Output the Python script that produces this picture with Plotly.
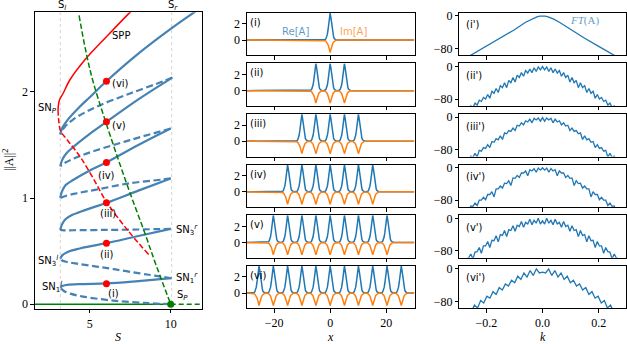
import plotly.graph_objects as go

W, H = 627, 344

# ---------------- left panel: snaking bifurcation diagram ----------------
S_left, S_right = 3.18, 10.06

# blue snake, alternating unstable (dashed) / stable (solid) pieces
b0_S = [10.0, 8.4, 6.45, 4.58, 3.8, 3.4, 3.18]
b0_A = [0.0, 0.012, 0.034, 0.072, 0.10, 0.125, 0.155]
b1_S = [3.18, 3.3, 3.6, 4.5, 6.03, 8.0, 10.05]
b1_A = [0.155, 0.172, 0.182, 0.19, 0.196, 0.218, 0.245]
b2_S = [10.05, 9.0, 8.1, 6.5, 5.41, 4.3, 3.6, 3.3, 3.18]
b2_A = [0.245, 0.27, 0.29, 0.33, 0.355, 0.38, 0.398, 0.412, 0.43]
b3_S = [3.18, 3.3, 3.6, 4.38, 5.0, 6.03, 8.0, 10.0]
b3_A = [0.43, 0.46, 0.49, 0.525, 0.545, 0.575, 0.643, 0.71]
b4_S = [10.0, 9.3, 8.0, 6.0, 4.0, 3.4, 3.18]
b4_A = [0.71, 0.708, 0.704, 0.70, 0.697, 0.696, 0.70]
b5_S = [3.18, 3.28, 3.5, 3.9, 4.38, 5.2, 6.07, 8.0, 10.0]
b5_A = [0.70, 0.75, 0.80, 0.84, 0.868, 0.912, 0.956, 1.07, 1.185]
b6_S = [10.0, 9.5, 7.48, 5.41, 4.2, 3.5, 3.18]
b6_A = [1.185, 1.175, 1.14, 1.08, 1.045, 1.02, 1.0]
b7_S = [3.18, 3.28, 3.5, 3.97, 5.0, 6.03, 8.0, 10.0]
b7_A = [1.0, 1.06, 1.12, 1.17, 1.26, 1.336, 1.50, 1.655]
b8_S = [10.0, 7.48, 5.41, 4.2, 3.5, 3.18]
b8_A = [1.655, 1.546, 1.45, 1.385, 1.335, 1.30]
b9_S = [3.18, 3.3, 3.55, 3.97, 5.0, 6.03, 8.0, 10.1]
b9_A = [1.30, 1.36, 1.42, 1.48, 1.605, 1.718, 1.93, 2.135]
b10_S = [10.1, 9.54, 7.48, 5.41, 3.97, 3.4, 3.18]
b10_A = [2.135, 2.10, 1.985, 1.86, 1.74, 1.66, 1.60]
b11_S = [3.18, 3.3, 3.6, 4.38, 5.0, 6.03, 8.0, 10.06, 11.4, 12.0]
b11_A = [1.60, 1.66, 1.73, 1.86, 1.95, 2.10, 2.36, 2.60, 2.745, 2.81]

# periodic pattern branch (red)
spp_S = [3.04, 3.12, 3.35, 3.76, 4.69, 6.03, 7.42, 7.55]
spp_A = [1.83, 1.92, 1.985, 2.11, 2.30, 2.52, 2.74, 2.76]
spp_u_S = [3.04, 3.09, 3.2, 3.6, 4.4, 5.2, 6.03, 7.3, 8.65]
spp_u_A = [1.83, 1.72, 1.63, 1.55, 1.39, 1.19, 0.965, 0.705, 0.465]

# homogeneous state (green)
hom_S = [1.6, 10.0]
hom_A = [0.0, 0.0]
hom_u_S = [10.0, 11.95]
hom_u_A = [0.0, 0.0]
top_S = [4.34, 4.75, 5.2, 6.0, 7.27, 8.4, 9.13, 10.0]
top_A = [2.72, 2.39, 2.10, 1.71, 1.14, 0.67, 0.354, 0.0]

dot_S = [6.03, 6.03, 6.03, 6.03, 6.03, 6.03]
dot_A = [0.194, 0.574, 0.956, 1.336, 1.718, 2.10]
Sp = [10.0, 0.0]

# ---------------- middle: pulse profiles ----------------
prof_off = [0.0, 0.25, 0.5, 0.75, 1.0, 1.25, 1.5, 1.75, 2.0, 2.25, 2.5]
re_half = [3.35, 2.85, 2.0, 1.25, 0.7, 0.36, 0.17, 0.07, 0.02, 0.0, 0.0]
im_half = [-1.55, -1.2, -0.85, -0.58, -0.38, -0.24, -0.14, -0.08, -0.04, -0.01, 0.0]
peaks = [
    [0.0],
    [-5.1, 0.0, 5.1],
    [-10.1, -5.1, 0.0, 5.1, 10.1],
    [-15.2, -10.1, -5.1, 0.0, 5.1, 10.1, 15.2],
    [-20.3, -15.2, -10.1, -5.1, 0.0, 5.1, 10.1, 15.2, 20.3],
    [-25.4, -20.3, -15.2, -10.1, -5.1, 0.0, 5.1, 10.1, 15.2, 20.3, 25.4],
]
roman = ["i", "ii", "iii", "iv", "v", "vi"]

# ---------------- right: spectra (dB), half spectra k >= 0 ----------------
k_half = [0.0, 0.0075, 0.015, 0.0225, 0.03, 0.0375, 0.045, 0.0525, 0.06, 0.0675,
          0.075, 0.0825, 0.09, 0.0975, 0.105, 0.1125, 0.12, 0.1275, 0.135, 0.1425,
          0.15, 0.1575, 0.165, 0.1725, 0.18, 0.1875, 0.195, 0.2025, 0.21, 0.2175,
          0.225, 0.2325, 0.24, 0.2475, 0.255, 0.2625, 0.27]
k1_half = [0.0, 0.01, 0.02, 0.03, 0.04, 0.06, 0.1, 0.15, 0.2, 0.25, 0.3]
ft1 = [0, -0.6, -2.2, -4.6, -8, -15.5, -34, -55, -75, -95, -115]
ft2 = [0, -8, -1, -12, -3, -15, -6, -16, -10, -24, -15, -27, -21, -38, -27, -40, -34, -52,
       -40, -52, -47, -64, -54, -66, -61, -78, -69, -80, -76, -86, -83, -95, -90, -101,
       -97, -108, -105]
ft3 = [-1, -10, -2, -7, -3, -14, -5, -12, -9, -19, -14, -22, -20, -33, -27, -35, -33, -41,
       -39, -55, -46, -56, -53, -62, -60, -75, -68, -77, -75, -84, -82, -98, -89, -99,
       -96, -106, -104]
ft4 = [0, -6, -1, -11, -2, -8, -5, -20, -8, -13, -13, -24, -19, -26, -25, -44, -32, -39,
       -38, -50, -45, -52, -52, -72, -59, -66, -66, -79, -73, -80, -80, -93, -87, -95,
       -94, -107, -102]
ft5 = [-6, -14, 0, -12, -5, -16, -2, -14, -10, -22, -8, -20, -17, -32, -18, -30, -28, -45,
       -30, -42, -40, -58, -43, -55, -54, -72, -57, -68, -68, -86, -72, -82, -83, -100,
       -88, -97, -100]
k6_half = [0.0, 0.011, 0.022, 0.033, 0.044, 0.055, 0.066, 0.077, 0.088, 0.099, 0.11,
           0.121, 0.132, 0.143, 0.154, 0.165, 0.176, 0.187, 0.198, 0.209, 0.22, 0.231,
           0.242, 0.253, 0.264, 0.275]
ft6 = [-8, -10, 0, -16, -4, -20, -10, -26, -18, -34, -28, -42, -37, -52, -46, -63, -56,
       -72, -67, -84, -78, -96, -89, -106, -99, -110]
spectra = [(k1_half, ft1), (k_half, ft2), (k_half, ft3), (k_half, ft4), (k_half, ft5),
           (k6_half, ft6)]


def mirror(xh, yh):
    return [-v for v in xh[::-1]] + xh[1:], yh[::-1] + yh[1:]


def train(centers, off, val):
    xo, yo = mirror(off, val)
    xs, ys = [-30.0], [0.0]
    for c in centers:
        xs += [c + o for o in xo]
        ys += yo
    return xs + [30.0], ys + [0.0]


SERIF = "Liberation Serif"
SANS = "DejaVu Sans"
BLUE = "#4682b4"

fig = go.Figure()

axis_style = dict(showline=True, linecolor="black", linewidth=0.8, mirror=True,
                  ticks="outside", ticklen=3.5, tickwidth=0.8, tickcolor="black",
                  showgrid=False, zeroline=False,
                  tickfont=dict(family=SERIF, size=12, color="black"))


def px_x(a, b):
    return [a / W, b / W]


def px_y(t, b):
    return [1 - b / H, 1 - t / H]


layout = {}
layout["xaxis"] = dict(axis_style, domain=px_x(34.7, 202.3), range=[1.6, 11.95],
                       tickvals=[5, 10], anchor="y")
layout["yaxis"] = dict(axis_style, domain=px_y(12.3, 309), range=[-0.045, 2.75],
                       tickvals=[0, 1, 2], anchor="x")
for i in range(6):
    top = 12.7 + 50.6 * i
    bot = top + 42.6
    n_m, n_r = 2 + i, 8 + i
    last = i == 5
    layout[f"xaxis{n_m}"] = dict(axis_style, domain=px_x(246.7, 414.7), range=[-29.8, 30.2],
                                 tickvals=[-20, 0, 20], showticklabels=last, anchor=f"y{n_m}")
    layout[f"yaxis{n_m}"] = dict(axis_style, domain=px_y(top, bot), range=[-1.9, 3.4],
                                 tickvals=[0, 2], anchor=f"x{n_m}")
    layout[f"xaxis{n_r}"] = dict(axis_style, domain=px_x(459.3, 625.7), range=[-0.296, 0.296],
                                 tickvals=[-0.2, 0, 0.2], tickformat=".1f",
                                 showticklabels=last, anchor=f"y{n_r}")
    layout[f"yaxis{n_r}"] = dict(axis_style, domain=px_y(top, bot), range=[-97, 8],
                                 tickvals=[-80, 0], anchor=f"x{n_r}")

# --- left panel traces
for sv in (S_left, S_right):
    fig.add_trace(go.Scatter(x=[sv, sv], y=[-0.045, 2.75], mode="lines",
                             line=dict(color="#c8c8c8", width=0.8, dash="dot")))

fig.add_trace(go.Scatter(x=hom_S, y=hom_A, mode="lines", line=dict(color="green", width=1.5)))
fig.add_trace(go.Scatter(x=hom_u_S, y=hom_u_A, mode="lines",
                         line=dict(color="green", width=1.5, dash="5px,3px")))

dashed = [(b0_S, b0_A), (b2_S, b2_A), (b4_S, b4_A), (b6_S, b6_A), (b8_S, b8_A), (b10_S, b10_A)]
solid = [(b1_S, b1_A), (b3_S, b3_A), (b5_S, b5_A), (b7_S, b7_A), (b9_S, b9_A), (b11_S, b11_A)]
for s, a in dashed:
    fig.add_trace(go.Scatter(x=s, y=a, mode="lines", line_shape="spline",
                             line=dict(color=BLUE, width=2.2, dash="7px,3.5px")))
for s, a in solid:
    fig.add_trace(go.Scatter(x=s, y=a, mode="lines", line_shape="spline",
                             line=dict(color=BLUE, width=2.2)))

fig.add_trace(go.Scatter(x=spp_S, y=spp_A, mode="lines", line_shape="spline",
                         line=dict(color="red", width=1.5)))
fig.add_trace(go.Scatter(x=spp_u_S, y=spp_u_A, mode="lines", line_shape="spline",
                         line=dict(color="red", width=1.5, dash="5.5px,2.5px")))
fig.add_trace(go.Scatter(x=top_S, y=top_A, mode="lines", line_shape="spline",
                         line=dict(color="green", width=1.5, dash="5.5px,2.5px")))
fig.add_trace(go.Scatter(x=dot_S, y=dot_A, mode="markers",
                         marker=dict(color="red", size=7)))
fig.add_trace(go.Scatter(x=[Sp[0]], y=[Sp[1]], mode="markers",
                         marker=dict(color="green", size=7)))

# --- middle and right panels
for i in range(6):
    xr, yr = train(peaks[i], prof_off, re_half)
    xi, yi = train(peaks[i], prof_off, im_half)
    fig.add_trace(go.Scatter(x=xr, y=yr, mode="lines", xaxis=f"x{2+i}", yaxis=f"y{2+i}",
                             line=dict(color="#1f77b4", width=1.5)))
    fig.add_trace(go.Scatter(x=xi, y=yi, mode="lines", xaxis=f"x{2+i}", yaxis=f"y{2+i}",
                             line=dict(color="#ff7f0e", width=1.5)))
    kk, dd = mirror(*spectra[i])
    fig.add_trace(go.Scatter(x=kk, y=dd, mode="lines", xaxis=f"x{8+i}", yaxis=f"y{8+i}",
                             line=dict(color="#1f77b4", width=1.3)))

# --- text
ann = []


def label(x, y, text, xref="x", yref="y", xanchor="center", size=10, family=SANS,
          color="black", **kw):
    ann.append(dict(x=x, y=y, xref=xref, yref=yref, text=text, showarrow=False,
                    xanchor=xanchor, yanchor="middle",
                    font=dict(family=family, size=size, color=color), **kw))


label(6.95, 2.53, "SPP")
label(1.68, 1.84, "SN<sub><i>P</i></sub>", xanchor="left")
label(6.28, 2.08, "(vi)", xanchor="left")
label(6.25, 1.68, "(v)", xanchor="left")
label(6.05, 1.216, "(iv)")
label(6.1, 0.856, "(iii)")
label(6.05, 0.473, "(ii)")
label(6.45, 0.103, "(i)")
label(10.2, 0.70, "SN<sub>3</sub><sup><i>r</i></sup>", xanchor="left")
label(10.2, 0.25, "SN<sub>1</sub><sup><i>r</i></sup>", xanchor="left")
label(10.25, 0.078, "S<sub><i>P</i></sub>", xanchor="left")
label(1.68, 0.41, "SN<sub>3</sub><sup><i>l</i></sup>", xanchor="left")
label(1.9, 0.16, "SN<sub>1</sub><sup><i>l</i></sup>", xanchor="left")
label(62 / W, 1 - 5 / H, "S<sub><i>l</i></sub>", xref="paper", yref="paper")
label(172.5 / W, 1 - 5 / H, "S<sub><i>r</i></sub>", xref="paper", yref="paper")

for i in range(6):
    label(-29.4, 2.2, f"({roman[i]})", xref=f"x{2+i}", yref=f"y{2+i}", xanchor="left")
    label(-0.279, -22, f"({roman[i]}')", xref=f"x{8+i}", yref=f"y{8+i}", xanchor="left")

label(-12.4, 1.04, "Re[A]", xref="x2", yref="y2", color="rgba(31,119,180,0.75)")
label(8.5, 1.04, "Im[A]", xref="x2", yref="y2", color="rgba(255,127,14,0.75)")
label(0.15, -11.6, "<i>FT</i>(A)", xref="x8", yref="y8", family=SERIF, size=11,
      color="rgba(31,119,180,0.75)")

label(118.5 / W, 1 - 337 / H, "<i>S</i>", xref="paper", yref="paper", family=SERIF, size=12)
label(330 / W, 1 - 337 / H, "<i>x</i>", xref="paper", yref="paper", family=SERIF, size=12)
label(542.7 / W, 1 - 337 / H, "<i>k</i>", xref="paper", yref="paper", family=SERIF, size=12)
label(9 / W, 1 - 160 / H, "||A||<sup>2</sup>", xref="paper", yref="paper", family=SERIF,
      size=12, textangle=-90)

fig.update_layout(width=W, height=H,
                  margin=dict(l=0, r=0, t=0, b=0, autoexpand=False),
                  paper_bgcolor="white", plot_bgcolor="white", showlegend=False,
                  annotations=ann, **layout)

# the page body has a default 8px margin; remove it so the figure fills the window
fig.write_html("out.html", config={"displayModeBar": False},
               post_script="document.body.style.margin='0px';")
